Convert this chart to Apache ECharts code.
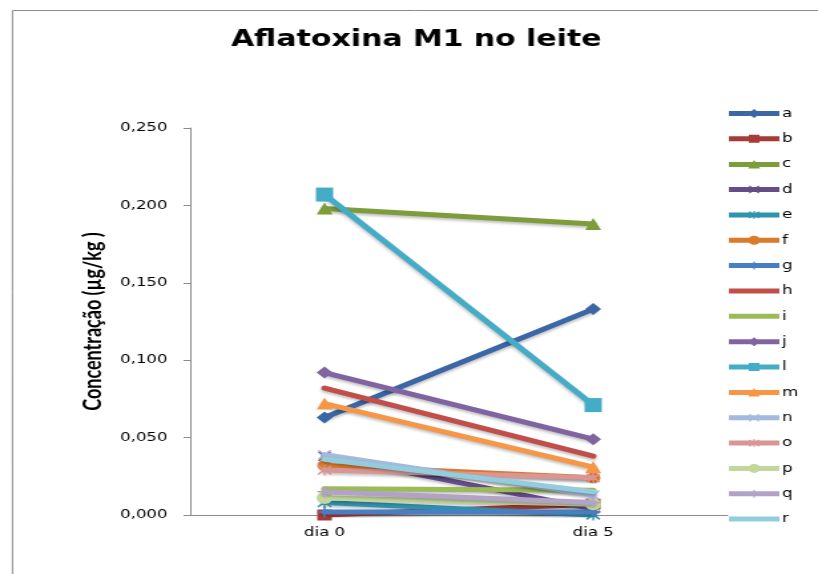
<!DOCTYPE html>
<html><head><meta charset="utf-8">
<script src="https://cdn.jsdelivr.net/npm/echarts@6/dist/echarts.min.js"></script>
<style>
html,body{margin:0;padding:0;background:#fff;overflow:hidden}
#wrap{width:818px;height:574px;overflow:hidden;position:relative}
#c{width:615px;height:574px;transform:scaleX(1.33);transform-origin:0 0;position:absolute;left:0;top:0}
</style>
</head><body><div id="wrap"><div id="c"></div></div>
<script>
const categories = ['dia 0', 'dia 5'];
const seriesNames = ['a','b','c','d','e','f','g','h','i','j','l','m','n','o','p','q','r'];
const a = [0.063, 0.133];
const b = [0.000, 0.007];
const c = [0.198, 0.188];
const d = [0.038, 0.004];
const e = [0.008, 0.000];
const f = [0.032, 0.024];
const g = [0.002, 0.002];
const h = [0.082, 0.038];
const i = [0.017, 0.016];
const j = [0.092, 0.049];
const l = [0.207, 0.071];
const m = [0.072, 0.031];
const n = [0.039, 0.013];
const o = [0.029, 0.024];
const p = [0.011, 0.007];
const q = [0.015, 0.008];
const r = [0.036, 0.015];
const values = [a,b,c,d,e,f,g,h,i,j,l,m,n,o,p,q,r];
const yTicks = [0, 0.05, 0.10, 0.15, 0.20, 0.25];

const colors = ['#3B67A6','#A93B37','#7D9D3A','#674C8A','#2F93AD','#DC7A2B','#4A7EC2','#C24E4A','#9BBB59','#8064A2','#45ACC8','#F79646','#A5B9DC','#D99694','#C3D69B','#B3A2C7','#93CDDD'];

// marker polygons in a 10x10 box
const POLY = {
  x: [[0,1],[1,0],[5,4],[9,0],[10,1],[6,5],[10,9],[9,10],[5,6],[1,10],[0,9],[4,5]],
  star: [[0,1.5],[1,0.5],[4.4,3.9],[4.4,0],[5.6,0],[5.6,3.9],[9,0.5],[10,1.5],[6.6,4.9],[6.6,5.1],[10,8.5],[9,9.5],[5.6,6.1],[5.6,10],[4.4,10],[4.4,6.1],[1,9.5],[0,8.5],[3.4,5.1],[3.4,4.9]],
  plus: [[4.3,0],[5.7,0],[5.7,4.3],[10,4.3],[10,5.7],[5.7,5.7],[5.7,10],[4.3,10],[4.3,5.7],[0,5.7],[0,4.3],[4.3,4.3]]
};
function polyPath(pts, ox, oy, s){ return 'M' + pts.map(pt => (ox+pt[0]*s).toFixed(2)+','+(oy+pt[1]*s).toFixed(2)).join('L') + 'Z'; }
function seriesSymbol(kind){
  if (kind==='none') return 'none';
  if (POLY[kind]) return 'path://' + polyPath(POLY[kind],0,0,1);
  return kind;
}
const LW = 38; // legend item width
function legendIcon(kind){
  let s = 'M0,3.5L'+LW+',3.5L'+LW+',8.5L0,8.5Z';
  const cx = LW/2;
  if (kind==='diamond') s += 'M'+cx+',1.5L'+(cx+4.5)+',6L'+cx+',10.5L'+(cx-4.5)+',6Z';
  else if (kind==='rect') s += 'M'+(cx-4)+',2L'+(cx+4)+',2L'+(cx+4)+',10L'+(cx-4)+',10Z';
  else if (kind==='triangle') s += 'M'+cx+',1.5L'+(cx+4.5)+',10L'+(cx-4.5)+',10Z';
  else if (kind==='circle') s += 'M'+(cx-4.5)+',6A4.5,4.5,0,1,1,'+(cx+4.5)+',6A4.5,4.5,0,1,1,'+(cx-4.5)+',6Z';
  else if (POLY[kind]) s += polyPath(POLY[kind], cx-4, 2, 0.8);
  return 'path://' + s;
}
const kinds = ['diamond','rect','triangle','x','star','circle','plus','none','none','diamond','rect','triangle','x','star','circle','plus','none'];
const sizes = [12,11,12,10,11,11,11,0,0,12,[13,14],12,10,11,12,11,0];

const chart = echarts.init(document.getElementById('c'), null, {renderer:'canvas', width:615, height:574});
chart.setOption({
  animation:false,
  graphic:[
    {type:'rect', shape:{x:9.4,y:10.5,width:900,height:700}, style:{fill:'none', stroke:'#8c8c8c', lineWidth:1}, silent:true},
    {type:'text', x:313, y:40, silent:true, style:{text:'Aflatoxina M1 no leite', font:'bold 22.5px "DejaVu Sans"', fill:'#000', textAlign:'center', textVerticalAlign:'middle'}}
  ],
  legend:{orient:'vertical', left:548, top:107, padding:0, itemWidth:LW, itemHeight:12, itemGap:12.35,
    itemStyle:{borderWidth:0},
    textStyle:{fontFamily:'DejaVu Sans', fontSize:12.5, lineHeight:12, color:'#000', padding:[0,0,0,-3]},
    data:seriesNames.map((nm,k)=>({name:nm, icon:legendIcon(kinds[k])}))},
  grid:{left:143, right:68, top:128, bottom:59, containLabel:false},
  xAxis:{type:'category', data:categories, boundaryGap:true,
    axisLine:{lineStyle:{color:'#8c8c8c', width:1}},
    axisTick:{show:false},
    axisLabel:{fontFamily:'DejaVu Sans', fontSize:12.5, color:'#000', margin:11}},
  yAxis:{type:'value', min:yTicks[0], max:yTicks[yTicks.length-1], interval:yTicks[1]-yTicks[0],
    name:'Concentração (µg/kg )', nameLocation:'middle', nameRotate:90, nameGap:62,
    nameTextStyle:{fontFamily:'Lato', fontWeight:'bold', fontSize:18, color:'#000'},
    axisLine:{show:true, lineStyle:{color:'#8c8c8c', width:1}},
    axisTick:{show:true, length:5, lineStyle:{color:'#8c8c8c'}},
    splitLine:{show:false},
    axisLabel:{fontFamily:'DejaVu Sans', fontSize:12.5, color:'#000', margin:17,
      formatter:v=>v.toFixed(3).replace('.',',')}},
  series: seriesNames.map((nm,k)=>({
    name:nm, type:'line', data:values[k], color:colors[k],
    symbol:seriesSymbol(kinds[k]), symbolSize:sizes[k], showSymbol:kinds[k]!=='none',
    lineStyle:{width:5, color:colors[k], cap:'round', shadowColor:'rgba(0,0,0,0.25)', shadowBlur:3, shadowOffsetY:2},
    itemStyle:{color:colors[k], borderWidth:0},
    z:2+k
  }))
});
</script></body></html>
